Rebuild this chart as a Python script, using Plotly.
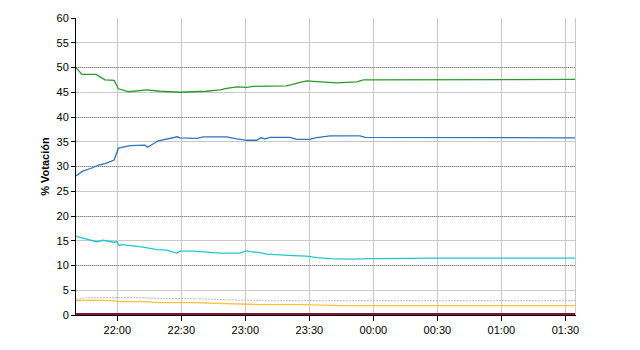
import plotly.graph_objects as go
from datetime import datetime, timedelta

BASE = datetime(2008, 3, 9)

def ts(hms):
    parts = [int(p) for p in hms.split(":")]
    while len(parts) < 3:
        parts.append(0)
    h, m, s = parts
    d = BASE + timedelta(hours=h, minutes=m, seconds=s)
    if h < 12:
        d += timedelta(days=1)
    return d

green_t = ["21:40:40", "21:43:30", "21:50:00", "21:54:15", "21:58:30", "22:00:30", "22:05:30",
           "22:13:45", "22:20:00", "22:29:20", "22:35:30", "22:41:50", "22:48:10", "22:51:15",
           "22:56:00", "23:00:40", "23:03:45", "23:19:25", "23:25:40", "23:28:50", "23:31:50",
           "23:38:10", "23:42:50", "23:47:30", "23:52:15", "23:55:20", "00:12:30", "01:34:30"]
green_v = [49.9, 48.6, 48.6, 47.5, 47.4, 45.7, 45.1,
           45.5, 45.2, 45.0, 45.1, 45.2, 45.5, 45.8,
           46.1, 46.0, 46.2, 46.3, 47.0, 47.3, 47.2,
           47.1, 46.9, 47.0, 47.1, 47.5, 47.5, 47.6]

blue_t = ["21:40:40", "21:43:30", "21:48:45", "21:51:05", "21:54:15", "21:58:30", "22:00:30",
          "22:06:00", "22:13:00", "22:14:05", "22:19:15", "22:24:40", "22:28:10", "22:29:20",
          "22:37:15", "22:40:20", "22:51:15", "22:56:00", "23:00:40", "23:05:20", "23:07:15",
          "23:09:15", "23:11:35", "23:21:00", "23:24:05", "23:30:20", "23:32:40", "23:39:40",
          "23:53:45", "23:56:05", "00:12:30", "01:34:30"]
blue_v = [28.1, 29.0, 29.8, 30.3, 30.6, 31.3, 33.7,
          34.2, 34.3, 33.9, 35.2, 35.7, 36.0, 35.8,
          35.7, 36.0, 36.0, 35.6, 35.3, 35.3, 35.8,
          35.6, 35.9, 35.9, 35.5, 35.5, 35.8, 36.2,
          36.2, 35.9, 35.9, 35.8]

cyan_t = ["21:40:40", "21:45:40", "21:50:20", "21:53:25", "21:58:10", "21:59:45", "22:00:55",
          "22:02:05", "22:12:10", "22:18:30", "22:23:10", "22:27:50", "22:29:20", "22:35:35",
          "22:43:25", "22:48:10", "22:57:30", "23:00:40", "23:02:10", "23:06:50", "23:10:00",
          "23:17:50", "23:22:30", "23:28:45", "23:33:30", "23:39:40", "23:49:05", "00:00:00",
          "00:31:15", "01:34:30"]
cyan_v = [15.9, 15.3, 14.8, 15.1, 14.7, 14.8, 14.0,
          14.2, 13.7, 13.2, 13.1, 12.5, 12.9, 12.9,
          12.7, 12.5, 12.5, 13.0, 12.8, 12.6, 12.3,
          12.2, 12.0, 11.9, 11.6, 11.4, 11.3, 11.4,
          11.5, 11.5]

gray_t = ["21:40:40", "21:45:40", "22:00:00", "22:12:10", "22:20:00", "22:35:35", "22:57:30",
          "23:13:00", "01:34:30"]
gray_v = [3.1, 3.5, 3.5, 3.5, 3.3, 3.3, 3.0, 2.9, 2.9]

yellow_t = ["21:40:40", "21:48:45", "21:58:10", "22:00:55", "22:12:10", "22:20:00", "22:35:35",
            "22:51:15", "23:06:50", "23:28:45", "23:44:25", "01:34:30"]
yellow_v = [2.9, 3.0, 2.9, 2.7, 2.7, 2.5, 2.5, 2.3, 2.1, 2.1, 1.9, 1.9]

red_t = ["21:40:40", "01:34:30"]
red_v = [0.2, 0.2]

x_range = ["21:40:38", "01:34:30"]
x_ticks = ["22:00", "22:30", "23:00", "23:30", "00:00", "00:30", "01:00", "01:30"]
y_title = "% Votación"

series = [
    (gray_t, gray_v, "#c4c4c4", 1.2, "2px,1px"),
    (yellow_t, yellow_v, "#ffc240", 1.3, "solid"),
    (cyan_t, cyan_v, "#20c8cc", 1.3, "solid"),
    (blue_t, blue_v, "#2e72c4", 1.3, "solid"),
    (green_t, green_v, "#2a9a2a", 1.3, "solid"),
    (red_t, red_v, "#8c1032", 2.0, "solid"),
]

fig = go.Figure()
for t, v, c, w, d in series:
    fig.add_trace(go.Scatter(x=[ts(s) for s in t], y=v, mode="lines",
                             line=dict(color=c, width=w, dash=d), showlegend=False,
                             hoverinfo="skip"))

# invisible trace to anchor the overlaying axis (dotted major grid)
fig.add_trace(go.Scatter(x=[ts(red_t[0])], y=[0], yaxis="y2", mode="lines",
                         showlegend=False, hoverinfo="skip", line=dict(width=0)))

font = dict(family="Liberation Sans, Arial, sans-serif", size=11, color="black")

fig.update_layout(
    width=640, height=350,
    margin=dict(l=76, r=65, t=15, b=35),
    paper_bgcolor="white", plot_bgcolor="white",
    font=font,
    xaxis=dict(
        type="date",
        range=[ts(x_range[0]), ts(x_range[1])],
        tickvals=[ts(s) for s in x_ticks],
        ticktext=x_ticks,
        showgrid=True, gridcolor="#c8c8c8", gridwidth=1,
        ticks="outside", ticklen=5, tickcolor="black",
        showline=True, linecolor="black", linewidth=1,
        zeroline=False,
    ),
    yaxis=dict(
        range=[0, 60], dtick=5, tick0=0,
        showgrid=True, gridcolor="#c8c8c8", gridwidth=1,
        ticks="outside", ticklen=4, tickcolor="black",
        showline=True, linecolor="black", linewidth=1,
        zeroline=False,
        title=dict(text=y_title, font=dict(family="Liberation Sans, Arial, sans-serif",
                                           size=11, color="black", weight="bold"),
                   standoff=4),
    ),
    yaxis2=dict(
        overlaying="y", matches="y", side="right",
        range=[0, 60], dtick=10, tick0=0,
        showgrid=True, gridcolor="#808080", griddash="1px,1px", gridwidth=1,
        showticklabels=False, ticks="",
        showline=True, linecolor="#c8c8c8", linewidth=1,
        zeroline=False,
    ),
)

fig.write_html("out.html")
